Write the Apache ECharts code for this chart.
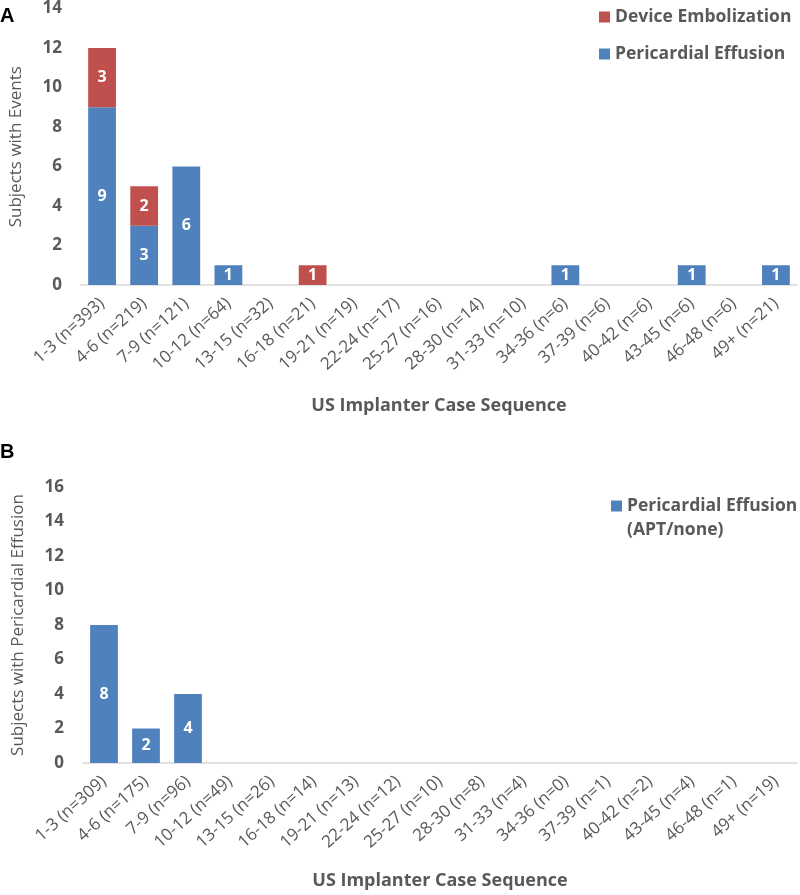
<!DOCTYPE html>
<html>
<head>
<meta charset="utf-8">
<script src="https://cdn.jsdelivr.net/npm/echarts@6/dist/echarts.min.js"></script>
<style>
  html, body { margin: 0; padding: 0; background: #fff; }
  #chart { width: 800px; height: 895px; }
</style>
</head>
<body>
<div id="chart"></div>
<script>
// panel A
const catsA = ['1-3 (n=393)', '4-6 (n=219)', '7-9 (n=121)', '10-12 (n=64)', '13-15 (n=32)', '16-18 (n=21)',
  '19-21 (n=19)', '22-24 (n=17)', '25-27 (n=16)', '28-30 (n=14)', '31-33 (n=10)', '34-36 (n=6)',
  '37-39 (n=6)', '40-42 (n=6)', '43-45 (n=6)', '46-48 (n=6)', '49+ (n=21)'];
const effusionA = [9, 3, 6, 1, 0, 0, 0, 0, 0, 0, 0, 1, 0, 0, 1, 0, 1];
const embolA = [3, 2, 0, 0, 0, 1, 0, 0, 0, 0, 0, 0, 0, 0, 0, 0, 0];

// panel B
const catsB = ['1-3 (n=309)', '4-6 (n=175)', '7-9 (n=96)', '10-12 (n=49)', '13-15 (n=26)', '16-18 (n=14)',
  '19-21 (n=13)', '22-24 (n=12)', '25-27 (n=10)', '28-30 (n=8)', '31-33 (n=4)', '34-36 (n=0)',
  '37-39 (n=1)', '40-42 (n=2)', '43-45 (n=4)', '46-48 (n=1)', '49+ (n=19)'];
const effusionB = [8, 2, 4, 0, 0, 0, 0, 0, 0, 0, 0, 0, 0, 0, 0, 0, 0];

const BLUE = '#4F81BD';
const RED = '#C0504D';
const GRAY = '#595959';
const FONT = '"Open Sans", sans-serif';

const chart = echarts.init(document.getElementById('chart'));

const barLabel = {
  show: true,
  position: 'inside',
  color: '#fff',
  fontWeight: 'bold',
  fontSize: 16,
  fontFamily: FONT,
  formatter: p => (p.value ? p.value : ''),
};

const xAxisBase = {
  type: 'category',
  axisTick: { show: false },
  axisLine: { lineStyle: { color: '#D9D9D9', width: 1.5 } },
  axisLabel: { rotate: 42, interval: 0, color: GRAY, fontSize: 17, fontFamily: FONT, margin: 16 },
  name: 'US Implanter Case Sequence',
  nameLocation: 'middle',
  nameTextStyle: { color: GRAY, fontSize: 18, fontWeight: 'bold', fontFamily: FONT },
};

const yAxisBase = {
  type: 'value',
  min: 0,
  interval: 2,
  splitLine: { show: false },
  axisLine: { show: false },
  axisTick: { show: false },
  axisLabel: { color: GRAY, fontSize: 17, fontWeight: 'bold', fontFamily: FONT, margin: 19 },
  nameLocation: 'middle',
  nameTextStyle: { color: GRAY, fontSize: 17, fontFamily: FONT },
};

const option = {
  animation: false,
  textStyle: { fontFamily: FONT },
  graphic: [
    { type: 'text', left: 0, top: 6, style: { text: 'A', font: 'bold 20px Arial', fill: '#000' } },
    { type: 'text', left: 0, top: 442, style: { text: 'B', font: 'bold 20px Arial', fill: '#000' } },
  ],
  legend: [
    {
      data: ['Device Embolization', 'Pericardial Effusion'],
      orient: 'vertical',
      left: 594,
      top: 0,
      icon: 'rect',
      itemWidth: 11,
      itemHeight: 11,
      itemGap: 13,
      textStyle: { color: GRAY, fontSize: 17.5, fontWeight: 'bold', fontFamily: FONT, lineHeight: 24 },
    },
    {
      data: ['Pericardial Effusion (APT/none)'],
      orient: 'vertical',
      left: 606,
      top: 465,
      icon: 'rect',
      itemWidth: 11,
      itemHeight: 11,
      // empty first line keeps the marker level with the first text line
      formatter: () => ' \nPericardial Effusion\n(APT/none)',
      textStyle: { color: GRAY, fontSize: 17.5, fontWeight: 'bold', fontFamily: FONT, lineHeight: 24 },
    },
  ],
  grid: [
    { left: 81, right: 3, top: 8.5, height: 276.5 },
    { left: 83, right: 3, top: 487, height: 276 },
  ],
  xAxis: [
    { ...xAxisBase, gridIndex: 0, data: catsA, nameGap: 112 },
    { ...xAxisBase, gridIndex: 1, data: catsB, nameGap: 109 },
  ],
  yAxis: [
    { ...yAxisBase, gridIndex: 0, max: 14, name: 'Subjects with Events', nameGap: 56 },
    { ...yAxisBase, gridIndex: 1, max: 16, name: 'Subjects with Pericardial Effusion', nameGap: 56 },
  ],
  series: [
    {
      name: 'Pericardial Effusion',
      type: 'bar',
      stack: 'a',
      xAxisIndex: 0,
      yAxisIndex: 0,
      data: effusionA,
      barCategoryGap: '34%',
      itemStyle: { color: BLUE },
      label: barLabel,
    },
    {
      name: 'Device Embolization',
      type: 'bar',
      stack: 'a',
      xAxisIndex: 0,
      yAxisIndex: 0,
      data: embolA,
      barCategoryGap: '34%',
      itemStyle: { color: RED },
      label: barLabel,
    },
    {
      name: 'Pericardial Effusion (APT/none)',
      type: 'bar',
      xAxisIndex: 1,
      yAxisIndex: 1,
      data: effusionB,
      barCategoryGap: '34%',
      itemStyle: { color: BLUE },
      label: barLabel,
    },
  ],
};

chart.setOption(option);
window.addEventListener('resize', () => chart.resize());
</script>
</body>
</html>
